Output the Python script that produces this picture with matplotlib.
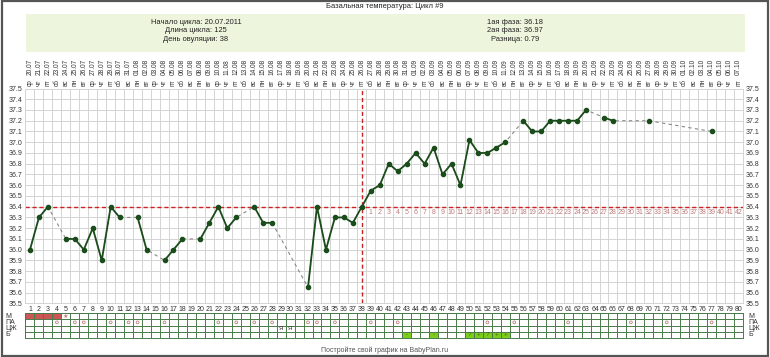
import matplotlib
matplotlib.use("Agg")
import matplotlib.pyplot as plt
import matplotlib.transforms as mtransforms
from matplotlib.patches import Rectangle
import numpy as np
import pandas as pd

plt.rcParams['font.family'] = ['Liberation Sans', 'DejaVu Sans']

# data
days = np.arange(1, 81)
temps = [36.0, 36.3, 36.4, None, 36.1, 36.1, 36.0, 36.2, 35.9, 36.4,
         36.3, None, 36.3, 36.0, None, 35.9, 36.0, 36.1, None, 36.1,
         36.25, 36.4, 36.2, 36.3, None, 36.4, 36.25, 36.25, None, None,
         None, 35.65, 36.4, 36.0, 36.3, 36.3, 36.25, 36.4, 36.55, 36.6,
         36.8, 36.73, 36.8, 36.9, 36.8, 36.95, 36.7, 36.8, 36.6, 37.02,
         36.9, 36.9, 36.95, 37.0, None, 37.2, 37.1, 37.1, 37.2, 37.2,
         37.2, 37.2, 37.3, None, 37.23, 37.2, None, None, None, 37.2,
         None, None, None, None, None, None, 37.1, None, None, None]
cover_line = 36.4
ovulation_day = 38
start_date = "2011-07-20"
weekdays = ['пн', 'вт', 'ср', 'чт', 'пт', 'сб', 'вс']

mens_days = [1, 2, 3, 4]
mens_star_days = [5]
pa_days = [4, 6, 7, 10, 12, 13, 16, 22, 24, 26, 28, 32, 33, 35, 39, 42,
           52, 55, 61, 68, 72, 77]
cm_days = [29, 30]
cm_labels = ['Я', 'Я']
test_days = [43, 46, 50, 51, 52, 53, 54]
test_labels = ['-', '-', '?', '+', '?', '+', '+']
row_names = ['М', 'ПА', 'ЦЖ', 'Б']

info_left = ['Начало цикла: 20.07.2011', 'Длина цикла: 125', 'День овуляции: 38']
info_right = ['1ая фаза: 36.18', '2ая фаза: 36.97', 'Разница: 0.79']

W, H = 770, 357
fig = plt.figure(figsize=(W / 100, H / 100), dpi=100)

def fx(px):
    return px / W

def fy(py):
    return 1 - py / H

# frame and info box
fig.patches.append(Rectangle((0.002, 0.004), 0.996, 0.992, transform=fig.transFigure,
                             fill=False, edgecolor='#555555', lw=1.6))
fig.patches.append(Rectangle((fx(26), fy(52)), fx(745 - 26), (52 - 14) / H,
                             transform=fig.transFigure, facecolor='#eef5dd',
                             edgecolor='none'))
fig.text(0.5, fy(6), 'Базальная температура: Цикл #9', ha='center', va='center',
         fontsize=5.4, color='#222222')
for i, s in enumerate(info_left):
    fig.text(fx(196), fy(22.5 + 8.5 * i), s, ha='center', va='center', fontsize=5.4, color='#222222')
for i, s in enumerate(info_right):
    fig.text(fx(515), fy(22.5 + 8.5 * i), s, ha='center', va='center', fontsize=5.4, color='#222222')
fig.text(0.5, fy(350), 'Постройте свой график на BabyPlan.ru', ha='center', va='center',
         fontsize=5.0, color='#555555')

# main chart
ax = fig.add_axes([fx(25.5), fy(303.4), fx(743 - 25.5), (303.4 - 88.5) / H])
ax.set_xlim(0.5, 80.5)
ax.set_ylim(35.5, 37.5)
ax.set_xticks(days)
ax.set_xticklabels([str(d) for d in days], fontsize=5, color='#333333')
ax.set_xticks(np.arange(0.5, 81, 1), minor=True)
yt = np.round(np.arange(35.5, 37.51, 0.1), 1)
ax.set_yticks(yt)
ax.set_yticklabels(['%.1f' % v for v in yt], fontsize=5, color='#333333')
ax.tick_params(axis='both', which='both', length=0, pad=2)
ax.tick_params(axis='y', labelright=True)
ax.grid(True, which='minor', axis='x', color='#d4d4d4', lw=0.7)
ax.grid(True, which='major', axis='y', color='#d4d4d4', lw=0.7)
for sp in ax.spines.values():
    sp.set_color('#d4d4d4')
    sp.set_linewidth(0.7)

t = np.array([np.nan if v is None else v for v in temps])
ok = ~np.isnan(t)
ax.plot(days[ok], t[ok], ls=(0, (3, 3)), color='#888888', lw=0.8, zorder=2)
ax.plot(days, t, color='#1b4d1b', lw=1.3, marker='o', ms=3.0, zorder=3)

ax.axhline(cover_line, color='#cc2222', ls=(0, (3, 2)), lw=1.0, zorder=2.5)
ax.axvline(ovulation_day, color='#cc2222', ls=(0, (3, 2)), lw=1.0, zorder=2.5)
for k, d in enumerate(range(ovulation_day + 1, 81)):
    ax.text(d, cover_line - 0.055, str(k + 1), ha='center', va='center',
            fontsize=5, color='#c07a7a')

# dates on top
dates = pd.date_range(start_date, periods=80)
trans = mtransforms.blended_transform_factory(ax.transData, ax.transAxes)
h_ax = 303.4 - 88.5
for d, dt in zip(days, dates):
    ax.text(d, 1 + 2.5 / h_ax, weekdays[dt.weekday()], transform=trans, rotation=90,
            ha='center', va='bottom', fontsize=4.7, color='#333333')
    ax.text(d, 1 + 13.5 / h_ax, dt.strftime('%d.%m'), transform=trans, rotation=90,
            ha='center', va='bottom', fontsize=4.7, color='#333333')

# table below
tb = fig.add_axes([fx(25.5), fy(338), fx(743 - 25.5), 25 / H])
tb.set_xlim(0.5, 80.5)
tb.set_ylim(0, 4)
tb.set_xticks(np.arange(0.5, 81, 1))
tb.set_yticks([0, 1, 2, 3, 4])
tb.tick_params(length=0, labelbottom=False, labelleft=False)
tb.grid(True, color='#4a7a4a', lw=0.7)
for sp in tb.spines.values():
    sp.set_color('#4a7a4a')
    sp.set_linewidth(0.7)
tb.set_axisbelow(False)

tb.bar(mens_days, 1, bottom=3, width=1, color='#cc5555', zorder=1)
for d in mens_star_days:
    tb.text(d, 3.5, '★', ha='center', va='center', fontsize=4.5, color='#c07a7a',
            family='DejaVu Sans')
tb.scatter(pa_days, [2.5] * len(pa_days), s=4, facecolors='none', edgecolors='#c08080',
           linewidths=0.6, zorder=3)
for d, s in zip(cm_days, cm_labels):
    tb.text(d, 1.5, s, ha='center', va='center', fontsize=4.5, color='#333333')
tb.bar(test_days, 1, bottom=0, width=1, color='#7ccc1c', zorder=1)
for d, s in zip(test_days, test_labels):
    tb.text(d, 0.5, s, ha='center', va='center', fontsize=4.5, color='#3a6a10')

for i, name in enumerate(row_names):
    yy = 3.5 - i
    tb.text(-1.7, yy, name, ha='left', va='center', fontsize=5, color='#333333')
    tb.text(81.1, yy, name, ha='left', va='center', fontsize=5, color='#333333')

fig.savefig('out.png', dpi=100)
